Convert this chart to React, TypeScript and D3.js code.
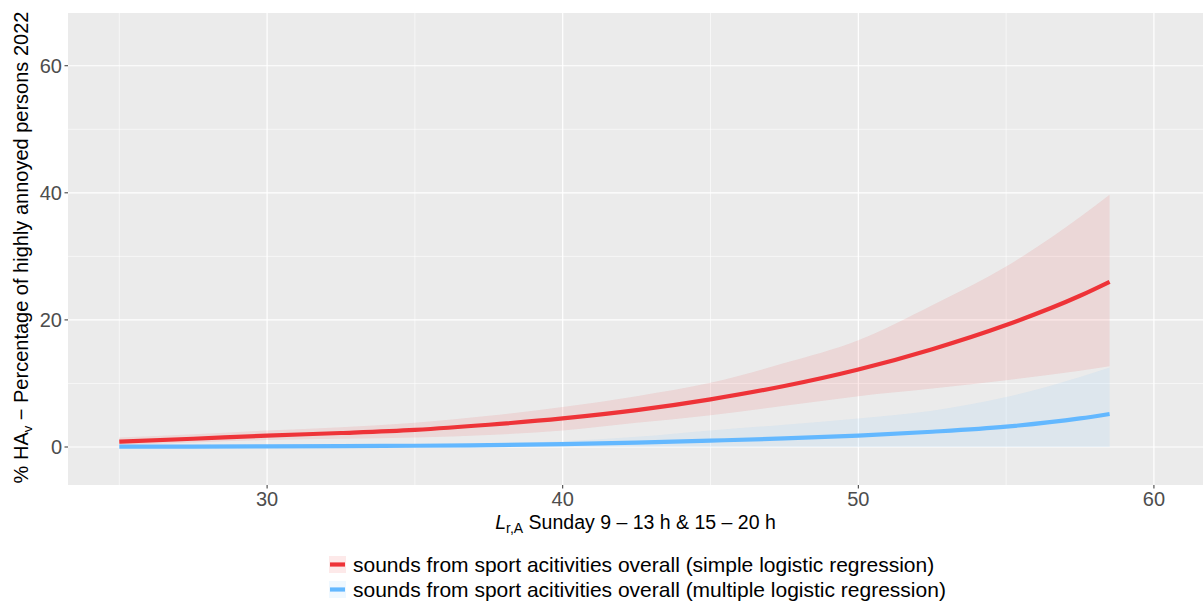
import React from "react";
import * as d3 from "d3";

// x values (L r,A in dB)
const xs = [25, 27.5, 30, 32.5, 35, 37.5, 40, 42.5, 45, 47.5, 50, 52.5, 55, 57.5, 58.5];
// simple logistic regression (red)
const simpleFit = [0.85, 1.3, 1.8, 2.2, 2.7, 3.5, 4.5, 5.8, 7.5, 9.6, 12.2, 15.4, 19.2, 23.8, 26.0];
const simpleUpper = [1.5, 2.0, 2.6, 3.1, 3.8, 4.9, 6.3, 8.0, 10.1, 13.2, 16.8, 22.3, 28.4, 36.2, 39.7];
const simpleLower = [0.3, 0.7, 1.1, 1.3, 1.5, 1.9, 2.6, 3.8, 5.0, 6.5, 8.0, 9.2, 10.5, 12.0, 12.7];
// multiple logistic regression (blue)
const multipleFit = [0.05, 0.07, 0.1, 0.15, 0.2, 0.3, 0.45, 0.7, 1.0, 1.35, 1.8, 2.4, 3.2, 4.5, 5.2];
const multipleUpper = [0.1, 0.15, 0.2, 0.3, 0.4, 0.6, 0.9, 1.6, 2.6, 3.5, 4.5, 5.7, 7.85, 11.0, 12.5];
const multipleLower = [0, 0, 0, 0, 0, 0, 0, 0, 0, 0, 0, 0, 0, 0, 0];

const xMajor = [30, 40, 50, 60];
const xMinor = [25, 35, 45, 55];
const yMajor = [0, 20, 40, 60];
const yMinor = [10, 30, 50];

const legendLabels = [
  "sounds from sport acitivities overall (simple logistic regression)",
  "sounds from sport acitivities overall (multiple logistic regression)",
];

const W = 1203;
const H = 601;
const panel = { left: 68, right: 1203, top: 13, bottom: 485 };
const FONT = "'Liberation Sans', Arial, Helvetica, sans-serif";

const series = [
  { fit: simpleFit, lo: simpleLower, hi: simpleUpper, line: "#EE3338", fill: "#EE2C2C", label: legendLabels[0] },
  { fit: multipleFit, lo: multipleLower, hi: multipleUpper, line: "#63B8FF", fill: "#63B8FF", label: legendLabels[1] },
];

export default function App() {
  const x = d3.scaleLinear().domain([23.265, 61.66]).range([panel.left, panel.right]);
  const y = d3.scaleLinear().domain([-5.98, 68.3]).range([panel.bottom, panel.top]);

  const area = (lo: number[], hi: number[]) =>
    d3
      .area<number>()
      .x((d) => x(d))
      .y0((_, i) => y(lo[i]))
      .y1((_, i) => y(hi[i]))
      .curve(d3.curveMonotoneX)(xs) || "";
  const line = (v: number[]) =>
    d3
      .line<number>()
      .x((d) => x(d))
      .y((_, i) => y(v[i]))
      .curve(d3.curveMonotoneX)(xs) || "";

  const legendY = [564.5, 589.5];

  return (
    <div style={{ position: "absolute", left: 0, top: 0 }}>
      <svg width={W} height={H} style={{ display: "block", fontFamily: FONT }}>
        <rect x={0} y={0} width={W} height={H} fill="#FFFFFF" />
        <rect
          x={panel.left}
          y={panel.top}
          width={panel.right - panel.left}
          height={panel.bottom - panel.top}
          fill="#EBEBEB"
        />
        {/* minor grid */}
        {xMinor.map((v) => (
          <line key={"xm" + v} x1={x(v)} x2={x(v)} y1={panel.top} y2={panel.bottom} stroke="#FFFFFF" strokeWidth={0.6} />
        ))}
        {yMinor.map((v) => (
          <line key={"ym" + v} x1={panel.left} x2={panel.right} y1={y(v)} y2={y(v)} stroke="#FFFFFF" strokeWidth={0.6} />
        ))}
        {/* major grid */}
        {xMajor.map((v) => (
          <line key={"xM" + v} x1={x(v)} x2={x(v)} y1={panel.top} y2={panel.bottom} stroke="#FFFFFF" strokeWidth={1.2} />
        ))}
        {yMajor.map((v) => (
          <line key={"yM" + v} x1={panel.left} x2={panel.right} y1={y(v)} y2={y(v)} stroke="#FFFFFF" strokeWidth={1.2} />
        ))}

        {/* ribbons */}
        {series.map((s, i) => (
          <path key={"rib" + i} d={area(s.lo, s.hi)} fill={s.fill} fillOpacity={0.1} />
        ))}
        {/* lines */}
        {series.map((s, i) => (
          <path key={"ln" + i} d={line(s.fit)} fill="none" stroke={s.line} strokeWidth={4.2} />
        ))}

        {/* axes ticks */}
        {yMajor.map((v) => (
          <g key={"yt" + v}>
            <line x1={panel.left - 3.5} x2={panel.left} y1={y(v)} y2={y(v)} stroke="#333333" strokeWidth={1} />
            <text x={panel.left - 6} y={y(v)} dy="0.36em" textAnchor="end" fontSize={20} fill="#4D4D4D">
              {v}
            </text>
          </g>
        ))}
        {xMajor.map((v) => (
          <g key={"xt" + v}>
            <line x1={x(v)} x2={x(v)} y1={panel.bottom} y2={panel.bottom + 3.5} stroke="#333333" strokeWidth={1} />
            <text x={x(v)} y={panel.bottom + 21} textAnchor="middle" fontSize={20} fill="#4D4D4D">
              {v}
            </text>
          </g>
        ))}

        {/* axis titles */}
        <text x={(panel.left + panel.right) / 2} y={529} textAnchor="middle" fontSize={19.5} fill="#000000">
          <tspan fontStyle="italic">L</tspan>
          <tspan fontSize={14} dy={4}>r,A</tspan>
          <tspan dy={-4}> Sunday 9 – 13 h &amp; 15 – 20 h</tspan>
        </text>
        <text
          transform={`translate(27.5,${(12 + 483) / 2}) rotate(-90)`}
          textAnchor="middle"
          fontSize={20}
          fill="#000000"
        >
          <tspan>% HA</tspan>
          <tspan fontSize={13} dy={4}>v</tspan>
          <tspan dy={-4}> − Percentage of highly annoyed persons 2022</tspan>
        </text>

        {/* legend */}
        {series.map((s, i) => (
          <g key={"lg" + i}>
            <rect x={329} y={legendY[i] - 8.5} width={17} height={17} fill={s.fill} fillOpacity={0.1} />
            <line x1={330} x2={345} y1={legendY[i]} y2={legendY[i]} stroke={s.line} strokeWidth={4.2} />
            <text x={353} y={legendY[i]} dy="0.36em" fontSize={21} fill="#000000">
              {s.label}
            </text>
          </g>
        ))}
      </svg>
    </div>
  );
}
